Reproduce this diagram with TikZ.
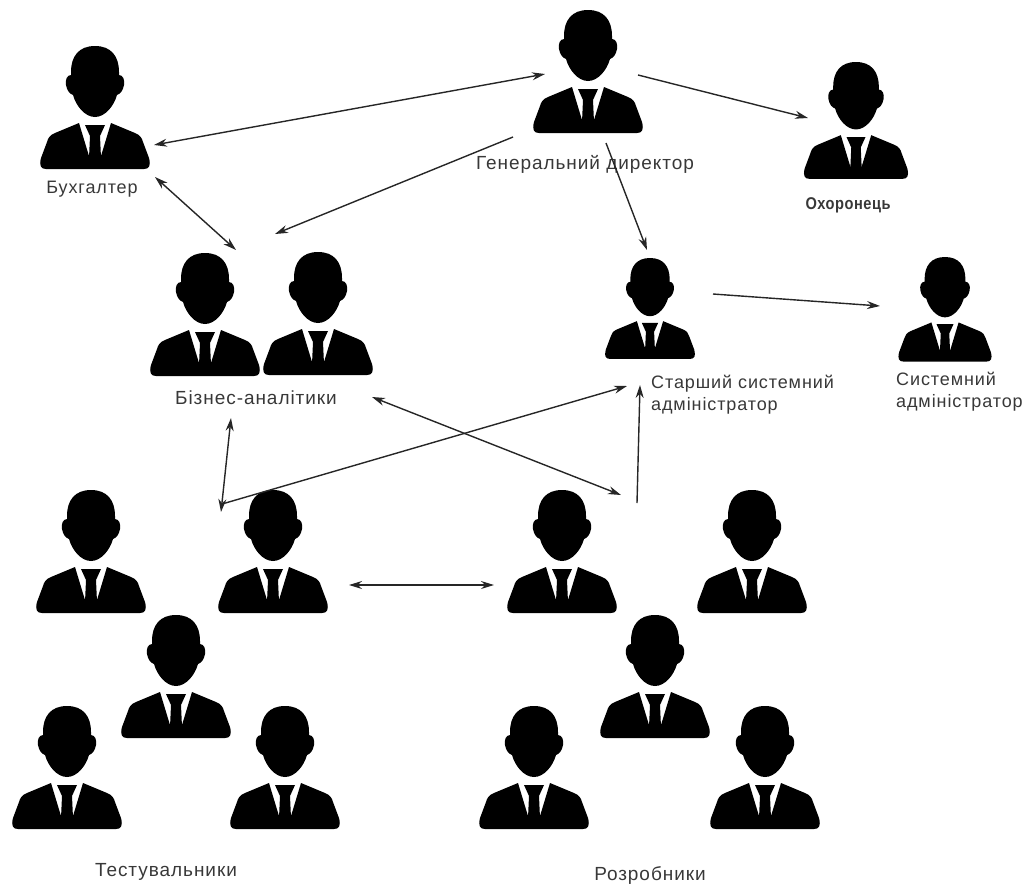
\documentclass[tikz,border=0pt]{standalone}
\usepackage{fontspec}
\setmainfont{Liberation Sans}
\newfontfamily\widefont[LetterSpace=5]{Liberation Sans}
\newfontfamily\narrowfont[FakeStretch=0.86,LetterSpace=3]{Liberation Sans Bold}
\usetikzlibrary{arrows.meta}
\tikzset{
    person/.pic={
        \fill[black] (0,0) .. controls (16,0) and (24,10) .. (24,26)
            .. controls (24,28) and (24,28) .. (24,29)
            .. controls (28,29) and (30,34) .. (29,39)
            .. controls (28,45) and (25,48) .. (22,49)
            .. controls (19,60) and (10,71) .. (0,71)
            .. controls (-10,71) and (-19,60) .. (-22,49)
            .. controls (-25,48) and (-28,45) .. (-29,39)
            .. controls (-30,34) and (-28,29) .. (-24,29)
            .. controls (-24,28) and (-24,28) .. (-24,26)
            .. controls (-24,10) and (-16,0) .. (0,0) -- cycle;
        \fill[black] (-16,77) -- (-40,87) .. controls (-45,89) and (-47,92) .. (-48,96)
            -- (-54,112) .. controls (-56,120) and (-54,123) .. (-49,123)
            -- (49,123) .. controls (54,123) and (56,120) .. (54,112)
            -- (48,96) .. controls (47,92) and (45,89) .. (40,87)
            -- (16,77) -- (6,110) -- (-6,110) -- cycle;
        \fill[black] (-10,79) -- (10,79) -- (5,90) -- (6,112) -- (-6,112) -- (-5,90) -- cycle;
    },
    label text/.style={inner sep=0pt, text=black!78, font=\fontsize{19}{22}\selectfont},
    admin text/.style={label text, anchor=west, align=left, font=\fontsize{18}{22}\selectfont},
    link/.style={black!85, line width=1.4pt, -{Stealth[length=13pt,width=8pt]}},
    both link/.style={black!85, line width=1.4pt, {Stealth[length=13pt,width=8pt]}-{Stealth[length=13pt,width=8pt]}}
}
\begin{document}
\begin{tikzpicture}[x=1pt,y=-1pt]
    \useasboundingbox (0,0) rectangle (1030,884);

    % people
    \foreach \px/\py/\ps/\pname in {
        95/46/1/accountant, 588/10/1/director, 856/62/0.95/guard,
        205/253/1/analystA, 318/252/1/analystB,
        650/258/0.82/senioradmin, 945/257/0.85/sysadmin,
        91/490/1/testerA, 273/490/1/testerB, 176/615/1/testerC, 67/706/1/testerD, 285/706/1/testerE,
        562/490/1/devA, 752/490/1/devB, 655/615/1/devC, 534/706/1/devD, 765/706/1/devE}
        \pic[scale=\ps] (\pname) at (\px,\py) {person};

    % labels
    \node[label text, font=\fontsize{18}{22}\selectfont] (accountantlabel) at (92,189) {\widefont Бухгалтер};
    \node[label text] (directorlabel) at (585,164) {\widefont Генеральний директор};
    \node[label text, font=\fontsize{17}{20}\selectfont] (guardlabel) at (848,205) {\narrowfont Охоронець};
    \node[label text] (analystlabel) at (256,398) {\widefont Бізнес-аналітики};
    \node[admin text] (senioradminlabel) at (651,395) {\widefont Старший системний\\\widefont адміністратор};
    \node[admin text] (sysadminlabel) at (896,392) {\widefont Системний\\\widefont адміністратор};
    \node[label text] (testerlabel) at (166,872) {\widefont Тестувальники};
    \node[label text] (devlabel) at (650,875) {\widefont Розробники};

    % arrow ends
    \coordinate (a1) at (154,145);
    \coordinate (a2) at (545,74);
    \coordinate (b1) at (638,75);
    \coordinate (b2) at (808,118);
    \coordinate (c1) at (513,137);
    \coordinate (c2) at (275,234);
    \coordinate (d1) at (155,177);
    \coordinate (d2) at (236,250);
    \coordinate (e1) at (606,143);
    \coordinate (e2) at (647,250);
    \coordinate (f1) at (713,294);
    \coordinate (f2) at (880,306);
    \coordinate (g1) at (231,418);
    \coordinate (g2) at (221,512);
    \coordinate (h1) at (222,504);
    \coordinate (h2) at (627,386);
    \coordinate (i1) at (372,397);
    \coordinate (i2) at (621,495);
    \coordinate (j1) at (637,503);
    \coordinate (j2) at (640,385);
    \coordinate (k1) at (349,585);
    \coordinate (k2) at (494,585);

    % arrows
    \draw[both link] (a1) -- (a2);
    \draw[link] (b1) -- (b2);
    \draw[link] (c1) -- (c2);
    \draw[both link] (d1) -- (d2);
    \draw[link] (e1) -- (e2);
    \draw[link] (f1) -- (f2);
    \draw[both link] (g1) -- (g2);
    \draw[link] (h1) -- (h2);
    \draw[both link] (i1) -- (i2);
    \draw[link] (j1) -- (j2);
    \draw[both link] (k1) -- (k2);
\end{tikzpicture}
\end{document}
